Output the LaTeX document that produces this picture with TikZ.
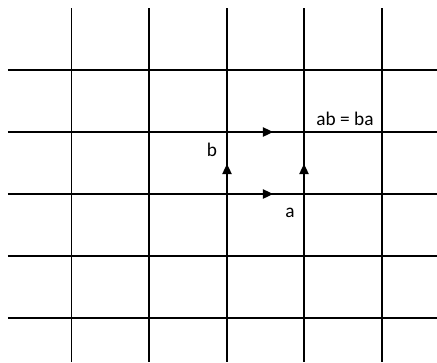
\documentclass[tikz,border=0pt]{standalone}
\usepackage{fontspec}
\setmainfont{Carlito}
\usetikzlibrary{arrows.meta}

\begin{document}
\begin{tikzpicture}[x=0.75pt,y=-0.75pt,line width=0.9pt]
  \tikzset{
    gridline/.style={black},
    flow/.style={-{Triangle[length=7.5pt,width=7pt]}},
    lbl/.style={font=\fontsize{14.5}{17}\selectfont,inner sep=0pt}
  }
  \useasboundingbox (0,0) rectangle (437,362);
  % grid
  \foreach \gx in {71.5,149,227,304,382}
    \draw[gridline] (\gx,8) -- (\gx,362);
  \foreach \gy in {70,132,194,256,318}
    \draw[gridline] (8,\gy) -- (437,\gy);
  % generators
  \draw[flow] (227,132) -- (273,132);
  \draw[flow] (227,194) -- (273,194);
  \draw[flow] (227,194) -- (227,164);
  \draw[flow] (304,194) -- (304,164);
  \node[lbl] (labb) at (212,150) {b};
  \node[lbl] (laba) at (290,213) {a};
  \node[lbl] (labab) at (345,119) {ab = ba};
\end{tikzpicture}
\end{document}
